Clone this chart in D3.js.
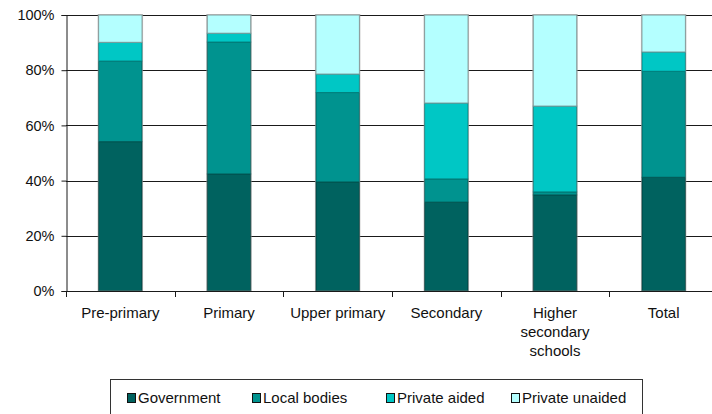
<!DOCTYPE html>
<html>
<head>
<meta charset="utf-8">
<script src="https://cdn.jsdelivr.net/npm/d3@7"></script>
<style>
  body { margin: 0; background: #fff; }
  svg { display: block; font-family: "Liberation Sans", Arial, sans-serif; }
</style>
</head>
<body>
<svg id="chart"></svg>
<script>
const width = 712;
const height = 414;

// data (shares in %)
const categories = ["Pre-primary", "Primary", "Upper primary", "Secondary", "Higher secondary schools", "Total"];
const categoryLines = [["Pre-primary"], ["Primary"], ["Upper primary"], ["Secondary"], ["Higher", "secondary", "schools"], ["Total"]];
const seriesNames = ["Government", "Local bodies", "Private aided", "Private unaided"];
const government    = [54.1, 42.4, 39.5, 32.2, 34.8, 41.2];
const localBodies   = [29.2, 47.8, 32.4,  8.4,  1.1, 38.4];
const privateAided  = [ 6.8,  3.2,  6.7, 27.5, 31.1,  7.0];
const privateUnaided= [ 9.9,  6.6, 21.4, 31.9, 33.0, 13.4];
const yTicks = [0, 20, 40, 60, 80, 100];

const colors = ["#00625f", "#00938f", "#00c7c5", "#b4ffff"];
const strokes = ["#003b39", "#005c59", "#00807e", "#7f9b9b"];

const svg = d3.select("#chart")
  .attr("width", width)
  .attr("height", height);

const margin = { left: 66, top: 15, bottom: 291, right: 718 };

const x = d3.scaleBand()
  .domain(categories)
  .range([margin.left, margin.right])
  .paddingInner(0.6)
  .paddingOuter(0.3);

const y = d3.scaleLinear()
  .domain([0, 100])
  .range([margin.bottom, margin.top]);

const rows = categories.map((c, i) => ({
  cat: c,
  "Government": government[i],
  "Local bodies": localBodies[i],
  "Private aided": privateAided[i],
  "Private unaided": privateUnaided[i]
}));

const stacked = d3.stack().keys(seriesNames)(rows);

// gridlines
svg.append("g")
  .selectAll("line")
  .data(yTicks.filter(t => t > 0))
  .enter()
  .append("line")
  .attr("x1", margin.left)
  .attr("x2", width)
  .attr("y1", d => Math.round(y(d)) + 0.5)
  .attr("y2", d => Math.round(y(d)) + 0.5)
  .attr("stroke", "#1a1a1a")
  .attr("stroke-width", 1);

// bars
stacked.forEach((layer, li) => {
  svg.append("g")
    .selectAll("rect")
    .data(layer)
    .enter()
    .append("rect")
    .attr("x", d => x(d.data.cat))
    .attr("width", x.bandwidth())
    .attr("y", d => y(d[1]))
    .attr("height", d => y(d[0]) - y(d[1]))
    .attr("fill", colors[li])
    .attr("stroke", strokes[li])
    .attr("stroke-width", 1);
});

// outer halo round each bar
svg.append("g")
  .selectAll("rect")
  .data(categories)
  .enter()
  .append("rect")
  .attr("x", d => x(d) - 0.5)
  .attr("width", x.bandwidth() + 1)
  .attr("y", y(100) - 0.5)
  .attr("height", y(0) - y(100) + 0.5)
  .attr("fill", "none")
  .attr("stroke", "#999")
  .attr("stroke-opacity", 0.6)
  .attr("stroke-width", 1);

// y axis
const yAxis = d3.axisLeft(y)
  .tickValues(yTicks)
  .tickFormat(d => d + "%")
  .tickSize(5)
  .tickPadding(7);

const gy = svg.append("g")
  .attr("transform", `translate(${margin.left + 0.5},0)`)
  .call(yAxis);
gy.select(".domain").attr("stroke", "#1a1a1a");
gy.selectAll(".tick line").attr("stroke", "#1a1a1a");
gy.selectAll(".tick text")
  .attr("font-size", "14.5px")
  .attr("fill", "#111")
  .attr("font-family", "Liberation Sans, Arial, sans-serif");

// x axis line and boundary ticks
svg.append("line")
  .attr("x1", margin.left)
  .attr("x2", width)
  .attr("y1", y(0) + 0.5)
  .attr("y2", y(0) + 0.5)
  .attr("stroke", "#1a1a1a");

svg.append("g")
  .selectAll("line")
  .data(d3.range(categories.length + 1))
  .enter()
  .append("line")
  .attr("x1", i => Math.round(margin.left + i * x.step()) + 0.5)
  .attr("x2", i => Math.round(margin.left + i * x.step()) + 0.5)
  .attr("y1", y(0))
  .attr("y2", y(0) + 6)
  .attr("stroke", "#1a1a1a");

// category labels
const labels = svg.append("g")
  .selectAll("text")
  .data(categories)
  .enter()
  .append("text")
  .attr("x", d => x(d) + x.bandwidth() / 2)
  .attr("y", 318)
  .attr("text-anchor", "middle")
  .attr("font-size", "15px")
  .attr("fill", "#111");

labels.each(function(d, i) {
  d3.select(this).selectAll("tspan")
    .data(categoryLines[i])
    .enter()
    .append("tspan")
    .attr("x", x(d) + x.bandwidth() / 2)
    .attr("dy", (t, j) => j === 0 ? 0 : 19)
    .text(t => t);
});

// legend
const legend = svg.append("g");
legend.append("rect")
  .attr("x", 110.5)
  .attr("y", 379.5)
  .attr("width", 532)
  .attr("height", 50)
  .attr("fill", "#fff")
  .attr("stroke", "#333");

const legendX = [127, 252, 386, 511];
seriesNames.forEach((name, i) => {
  legend.append("rect")
    .attr("x", legendX[i] + 0.5)
    .attr("y", 393.5)
    .attr("width", 8)
    .attr("height", 9)
    .attr("fill", colors[i])
    .attr("stroke", "#111");
  legend.append("text")
    .attr("x", legendX[i] + 11)
    .attr("y", 403)
    .attr("font-size", "15px")
    .attr("fill", "#111")
    .text(name);
});
</script>
</body>
</html>
